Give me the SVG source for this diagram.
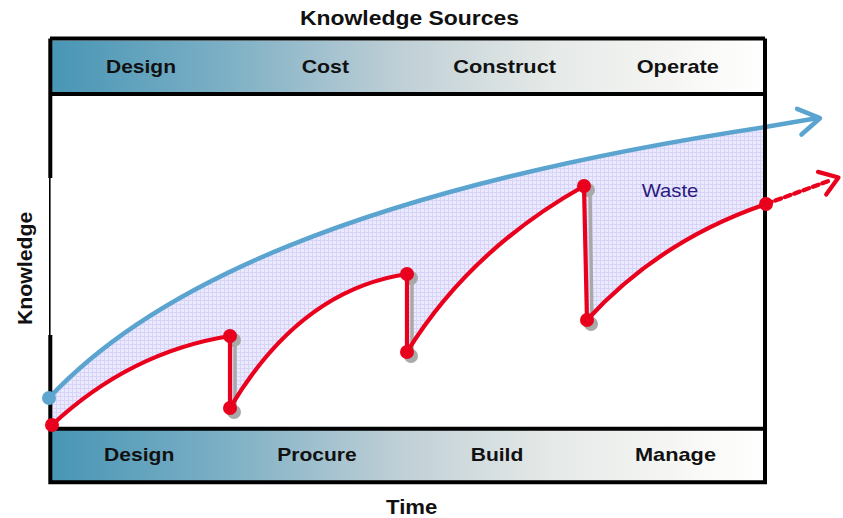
<svg xmlns="http://www.w3.org/2000/svg" width="843" height="518" viewBox="0 0 843 518">
<style>
.hdr{font-family:"Liberation Sans",Arial,sans-serif;font-weight:bold;font-size:18.5px;fill:#111;}
.ttl{font-family:"Liberation Sans",Arial,sans-serif;font-weight:bold;font-size:20px;fill:#111;}
.waste{font-family:"Liberation Sans",Arial,sans-serif;font-size:18.5px;fill:#2b1a7e;}
.frame{stroke:#000;stroke-width:4;fill:none;}
.red{stroke:#e8001c;stroke-width:4.2;fill:none;stroke-linecap:round;stroke-linejoin:round;}
.blue{stroke:#5ba4d0;stroke-width:4.5;fill:none;stroke-linecap:round;}
.rdot{fill:#e8001c;}
.sh{fill:#a9a9a9;}
.shl{stroke:#a9a9a9;stroke-width:3.5;}
</style>
<defs>
<linearGradient id="bar" x1="48" y1="0" x2="766" y2="0" gradientUnits="userSpaceOnUse">
<stop offset="0" stop-color="#4795b5"/>
<stop offset="0.25" stop-color="#7db0c5"/>
<stop offset="0.49" stop-color="#bfcfd6"/>
<stop offset="0.7" stop-color="#e5e9e7"/>
<stop offset="0.9" stop-color="#f8f8f6"/>
<stop offset="1" stop-color="#ffffff"/>
</linearGradient>
<pattern id="hatch" width="4" height="4" patternUnits="userSpaceOnUse">
<rect width="4" height="4" fill="#ebe9fd"/>
<path d="M0,0.5H4M0.5,0V4" stroke="#d8d4f8" stroke-width="1"/>
</pattern>
</defs>
<rect width="843" height="518" fill="#fff"/>
<text class="ttl" x="300" y="24.5" textLength="219" lengthAdjust="spacingAndGlyphs">Knowledge Sources</text>
<g id="knowledge-sources-bar">
<rect x="50" y="40.5" width="715" height="53.5" fill="url(#bar)"/>
<text class="hdr" x="106" y="72.7" textLength="70" lengthAdjust="spacingAndGlyphs">Design</text>
<text class="hdr" x="301.7" y="72.7" textLength="47.3" lengthAdjust="spacingAndGlyphs">Cost</text>
<text class="hdr" x="453.3" y="72.7" textLength="102.7" lengthAdjust="spacingAndGlyphs">Construct</text>
<text class="hdr" x="636.7" y="72.7" textLength="82.3" lengthAdjust="spacingAndGlyphs">Operate</text>
</g>
<g id="time-bar">
<rect x="50" y="428.7" width="715" height="53.5" fill="url(#bar)"/>
<text class="hdr" x="104" y="461.3" textLength="70.3" lengthAdjust="spacingAndGlyphs">Design</text>
<text class="hdr" x="277.3" y="461.3" textLength="79.4" lengthAdjust="spacingAndGlyphs">Procure</text>
<text class="hdr" x="470.7" y="461.3" textLength="52.6" lengthAdjust="spacingAndGlyphs">Build</text>
<text class="hdr" x="635" y="461.3" textLength="81" lengthAdjust="spacingAndGlyphs">Manage</text>
</g>
<text class="ttl" x="386" y="514.3" textLength="51.3" lengthAdjust="spacingAndGlyphs">Time</text>
<text class="ttl" transform="translate(31.5,325) rotate(-90)" x="0" y="0" textLength="113.3" lengthAdjust="spacingAndGlyphs">Knowledge</text>
<g id="waste-area">
<path d="M49,398 C150,290 350,190 765,127 L766,204 Q660,240 587,320 L584,186 Q470,250 407,352 L407,274 Q300,290 230,408 L230,336 Q130,352 52,425 Z" fill="url(#hatch)"/>
<text class="waste" x="641.7" y="197" textLength="56.6" lengthAdjust="spacingAndGlyphs">Waste</text>
</g>
<g id="connectors">
<path id="ideal-knowledge" class="blue" d="M49,398 C150,290 350,190 765,127 L818,118"/>
<polyline class="blue" points="797.1,108.9 820,118.2 801.5,134.5" stroke-linejoin="round"/>
<g id="frame">
<path class="frame" d="M50,38.5 H765 M50,94 H765 M50,428.7 H765 M50,482.2 H765 M765,38.5 V484.2 M50.3,38.5 V178 M50.3,335 V484.2"/>
<path d="M49.8,178 V335" stroke="#000" stroke-width="1.6"/>
</g>
<g id="shadows">
<line class="shl" x1="235" y1="340" x2="235" y2="411"/>
<line class="shl" x1="412" y1="278" x2="412" y2="355"/>
<line class="shl" x1="590" y1="190" x2="592" y2="323"/>
<circle class="sh" cx="234" cy="340" r="7"/>
<circle class="sh" cx="234" cy="412" r="7"/>
<circle class="sh" cx="411" cy="278" r="7"/>
<circle class="sh" cx="411" cy="356" r="7"/>
<circle class="sh" cx="588" cy="190" r="7"/>
<circle class="sh" cx="591" cy="324" r="7"/>
</g>
<path id="actual-knowledge" class="red" d="M52,425 Q130,352 230,336 L230,408 Q300,290 407,274 L407,352 Q470,250 584,186 L587,320 Q660,240 766,204"/>
<path class="red" d="M766,204 L830,180.5" stroke-dasharray="6 4" stroke-linecap="butt" stroke-width="5"/>
<polyline class="red" points="818,171.9 838.5,177.5 826.2,194.5"/>
</g>
<g id="points">
<circle cx="49" cy="398" r="7" fill="#5ea6d0"/>
<circle class="rdot" cx="52" cy="425" r="7"/>
<circle class="rdot" cx="230" cy="336" r="7"/>
<circle class="rdot" cx="230" cy="408" r="7"/>
<circle class="rdot" cx="407" cy="274" r="7"/>
<circle class="rdot" cx="407" cy="352" r="7"/>
<circle class="rdot" cx="584" cy="186" r="7"/>
<circle class="rdot" cx="587" cy="320" r="7"/>
<circle class="rdot" cx="766" cy="204" r="7"/>
</g>
</svg>
